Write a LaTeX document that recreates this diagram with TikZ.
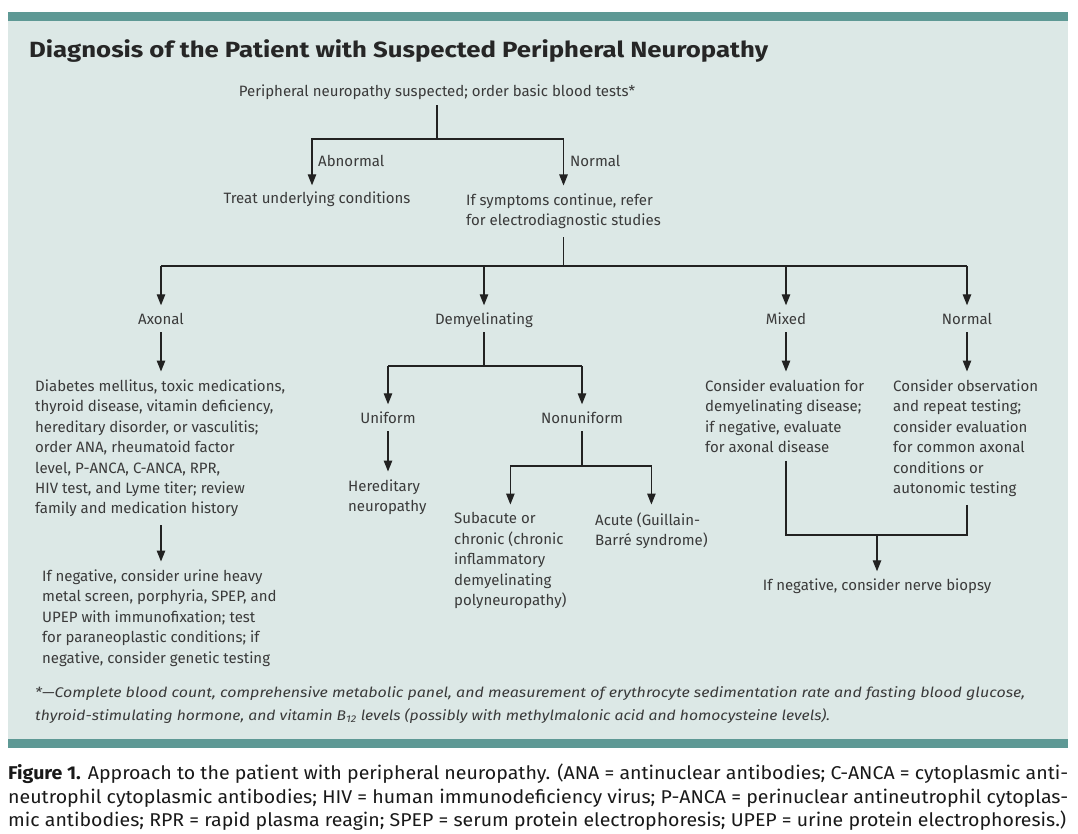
\documentclass[tikz,border=0pt]{standalone}
\usepackage{fontspec}
\setmainfont{Fira Sans}
\usetikzlibrary{arrows.meta}
\definecolor{panelbg}{HTML}{DCE8E6}
\definecolor{barteal}{HTML}{5E9995}
\definecolor{inkgray}{HTML}{3A3A3A}
\definecolor{linegray}{HTML}{222222}
\newcommand{\fitline}[2]{\resizebox{#1}{\height}{#2}}
\tikzset{
  lbl/.style={inner sep=0pt, text=inkgray, font=\fontsize{15}{20.4}\selectfont,
    text height=10.5pt, text depth=0pt},
  txtbox/.style={inner sep=0pt, text=inkgray, font=\fontsize{15}{20.4}\selectfont,
    align=left, anchor=north west},
  noteline/.style={anchor=base west, inner sep=0pt, text=inkgray,
    font=\itshape\fontsize{14}{23}\selectfont},
  capline/.style={anchor=base west, inner sep=0pt, text=black!90,
    font=\fontsize{18.5}{23.5}\selectfont},
  link/.style={draw=linegray, line width=1.2pt},
  arr/.style={link, -{Triangle[length=11pt,width=8.5pt]}, shorten >=8pt},
  off/.style={shorten <=8pt},
}
\begin{document}
\begin{tikzpicture}[x=1pt,y=1pt]
\useasboundingbox (0,0) rectangle (1078,-834);
\fill[white] (0,0) rectangle (1078,-834);

% Panel with bars
\fill[panelbg] (8,-21) rectangle (1068,-739);
\fill[barteal] (8,-12) rectangle (1068,-21);
\fill[barteal] (8,-739) rectangle (1068,-748);
\node[anchor=base west, inner sep=0pt, text=black!85,
  font=\fontsize{22}{26}\selectfont\bfseries] (title) at (29,-58)
  {\fitline{739pt}{Diagnosis of the Patient with Suspected Peripheral Neuropathy}};

% First split
\node[lbl, anchor=base] (top) at (437,-97) {Peripheral neuropathy suspected; order basic blood tests*};
\coordinate (j1) at (437,-139);
\node[lbl, anchor=base] (treat) at (317,-204) {Treat underlying conditions};
\node[txtbox] (cont) at (466,-193.5) {If symptoms continue, refer\\for electrodiagnostic studies};
\node[lbl, anchor=base west] (abn) at (318,-167) {Abnormal};
\node[lbl, anchor=base west] (nrm) at (570,-167) {Normal};
\draw[link, off] (top.south) -- (j1);
\draw[arr] (j1) -| ([xshift=-5pt]treat.north);
\draw[arr] (j1) -| (cont.north);

% Electrodiagnostic results
\coordinate (lvl2) at (0,-266);
\coordinate (j2) at (cont.south |- lvl2);
\node[lbl, anchor=base] (axo) at (161,-324) {Axonal};
\node[lbl, anchor=base] (dem) at (484,-324) {Demyelinating};
\node[lbl, anchor=base] (mix) at (786,-324) {Mixed};
\node[lbl, anchor=base] (nor) at (967,-324) {Normal};
\draw[link, off] (cont.south) -- (j2);
\draw[link] (axo.north |- j2) -- (nor.north |- j2);
\draw[arr] (axo.north |- j2) -- (axo.north);
\draw[arr] (dem.north |- j2) -- (dem.north);
\draw[arr] (mix.north |- j2) -- (mix.north);
\draw[arr] (nor.north |- j2) -- (nor.north);

% Axonal branch
\node[txtbox] (axd) at (35,-379.5) {Diabetes mellitus, toxic medications,\\thyroid disease, vitamin deficiency,\\hereditary disorder, or vasculitis;\\order ANA, rheumatoid factor\\level, P-ANCA, C-ANCA, RPR,\\HIV test, and Lyme titer; review\\family and medication history};
\node[txtbox] (axn) at (42,-569.5) {If negative, consider urine heavy\\metal screen, porphyria, SPEP, and\\UPEP with immunofixation; test\\for paraneoplastic conditions; if\\negative, consider genetic testing};
\draw[arr, off] (axo.south) -- (axo.south |- axd.north);
\draw[arr, off] (axd.south -| axo) -- (axn.north -| axo);

% Demyelinating branch
\coordinate (j3) at (484,-366);
\node[lbl, anchor=base] (uni) at (388,-423) {Uniform};
\node[lbl, anchor=base] (nun) at (582,-423) {Nonuniform};
\draw[link, off] (dem.south) -- (j3);
\draw[link] (uni.north |- j3) -- (nun.north |- j3);
\draw[arr] (uni.north |- j3) -- (uni.north);
\draw[arr] (nun.north |- j3) -- (nun.north);
\node[txtbox] (her) at (348,-479.5) {Hereditary\\neuropathy};
\draw[arr, off] (uni.south) -- (uni.south |- her.north);
\coordinate (j4) at (582,-466);
\node[txtbox] (sub) at (454,-512.5) {Subacute or\\chronic (chronic\\inflammatory\\demyelinating\\polyneuropathy)};
\node[txtbox] (acu) at (595,-512.5) {Acute (Guillain-\\Barré syndrome)};
\draw[link, off] (nun.south) -- (j4);
\draw[arr] (j4) -| (sub.north);
\draw[arr] (j4) -| (acu.north);

% Mixed and normal branches
\node[txtbox] (mxd) at (705,-379.5) {Consider evaluation for\\demyelinating disease;\\if negative, evaluate\\for axonal disease};
\node[txtbox] (nrd) at (893,-379.5) {Consider observation\\and repeat testing;\\consider evaluation\\for common axonal\\conditions or\\autonomic testing};
\draw[arr, off] (mix.south) -- (mix.south |- mxd.north);
\draw[arr, off] (nor.south) -- (nor.south |- nrd.north);
\coordinate (j5) at (877,-535);
\node[lbl, anchor=base] (bio) at (877,-590) {If negative, consider nerve biopsy};
\draw[link, off] (mxd.south -| mix) |- (j5);
\draw[link, off] (nrd.south -| nor) |- (j5);
\draw[arr] (j5) -- (bio.north);

% Footnote
\node[noteline] (note1) at (35,-697)
  {\fitline{990pt}{*—Complete blood count, comprehensive metabolic panel, and measurement of erythrocyte sedimentation rate and fasting blood glucose,}};
\node[noteline] (note2) at (35,-720)
  {\fitline{795pt}{thyroid-stimulating hormone, and vitamin B\textsubscript{12} levels (possibly with methylmalonic acid and homocysteine levels).}};

% Caption
\node[capline] (cap1) at (8,-779)
  {\fitline{1060pt}{\textbf{Figure 1.} Approach to the patient with peripheral neuropathy. (ANA = antinuclear antibodies; C-ANCA = cytoplasmic anti-}};
\node[capline] (cap2) at (8,-803)
  {\fitline{1060pt}{neutrophil cytoplasmic antibodies; HIV = human immunodeficiency virus; P-ANCA = perinuclear antineutrophil cytoplas-}};
\node[capline] (cap3) at (8,-826)
  {\fitline{1058pt}{mic antibodies; RPR = rapid plasma reagin; SPEP = serum protein electrophoresis; UPEP = urine protein electrophoresis.)}};
\end{tikzpicture}
\end{document}
